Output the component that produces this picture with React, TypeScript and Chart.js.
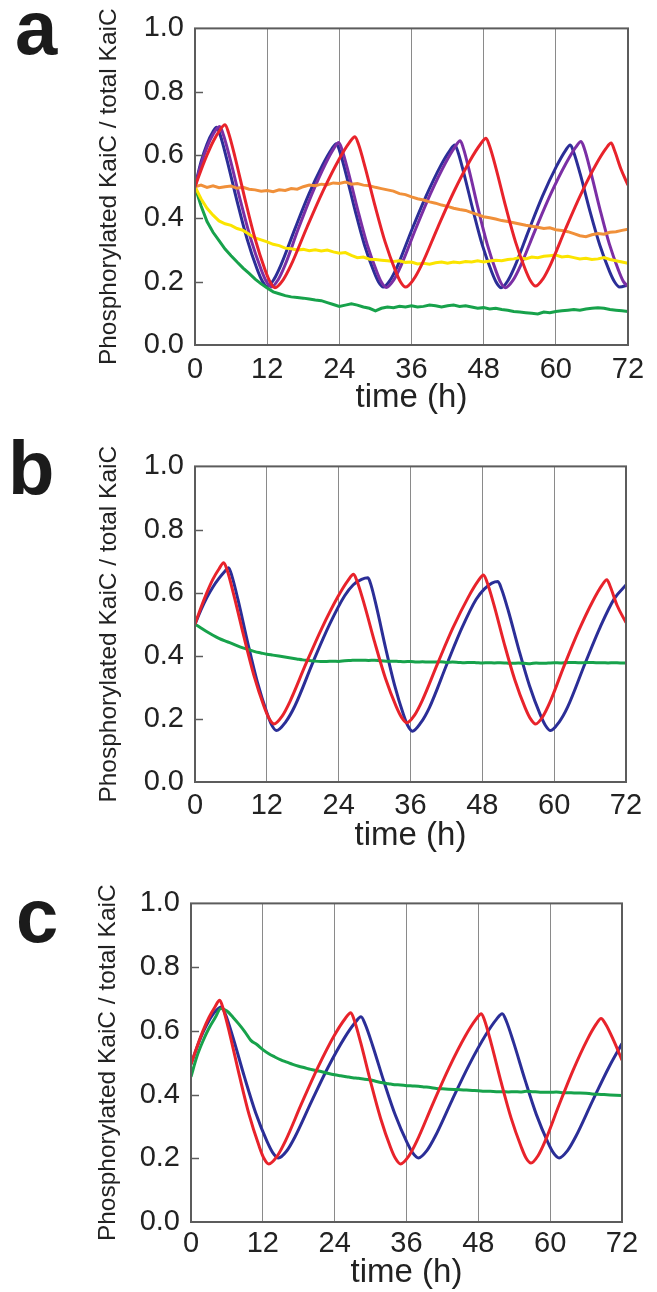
import React, { useEffect, useRef } from "react";
import { Chart, registerables } from "chart.js";

Chart.register(...registerables);

// ---------- shared axis content ----------
const X_TITLE = "time (h)";
const Y_TITLE = "Phosphorylated KaiC / total KaiC";
const X_MIN = 0;
const X_MAX = 72;
const X_STEP = 12;
const Y_MIN = 0;
const Y_MAX = 1;
const Y_STEP = 0.2;
const Y_INNER_TICKS = [0.2, 0.4, 0.6, 0.8];

// hourly sampling times for the measured (noisy / smooth decay) traces
const HOURS = [
  0, 1, 2, 3, 4, 5, 6, 7, 8, 9, 10, 11, 12, 13, 14, 15, 16, 17, 18, 19, 20, 21, 22, 23, 24,
  25, 26, 27, 28, 29, 30, 31, 32, 33, 34, 35, 36, 37, 38, 39, 40, 41, 42, 43, 44, 45, 46, 47, 48,
  49, 50, 51, 52, 53, 54, 55, 56, 57, 58, 59, 60, 61, 62, 63, 64, 65, 66, 67, 68, 69, 70, 71, 72,
];

// ---------- panel a ----------
const A_RED_T = [0, 1, 2, 3, 4, 5.0, 5.58, 6.66, 8.32, 9.98, 11.64, 12.47, 13.3, 14.63, 15.96, 18.62, 21.28, 23.94, 25.67, 26.6, 27.19, 28.28, 29.96, 31.64, 33.32, 34.16, 35.0, 36.34, 37.68, 40.36, 43.04, 45.72, 47.46, 48.4, 48.97, 50.04, 51.68, 53.32, 54.96, 55.78, 56.6, 57.86, 59.12, 61.64, 64.16, 66.68, 68.32, 69.2, 69.75, 70.84, 72];
const A_RED_V = [0.5, 0.552, 0.6, 0.642, 0.675, 0.696, 0.67, 0.593, 0.46, 0.336, 0.238, 0.2, 0.181, 0.205, 0.252, 0.372, 0.486, 0.586, 0.639, 0.658, 0.634, 0.562, 0.438, 0.324, 0.235, 0.2, 0.183, 0.207, 0.253, 0.371, 0.484, 0.582, 0.634, 0.653, 0.629, 0.559, 0.436, 0.324, 0.237, 0.203, 0.186, 0.209, 0.254, 0.368, 0.476, 0.57, 0.62, 0.638, 0.615, 0.555, 0.505];

const A_BLUE_T = [0, 1, 2, 3, 3.6, 4.19, 5.28, 6.96, 8.64, 10.32, 11.16, 12.0, 13.15, 14.3, 16.6, 18.9, 21.2, 22.7, 23.5, 24.05, 25.06, 26.62, 28.18, 29.74, 30.52, 31.3, 32.49, 33.68, 36.06, 38.44, 40.82, 42.37, 43.2, 43.74, 44.74, 46.28, 47.82, 49.36, 50.13, 50.9, 52.05, 53.2, 55.5, 57.8, 60.1, 61.6, 62.4, 62.97, 64.04, 65.68, 67.32, 68.96, 69.78, 70.6, 72];
const A_BLUE_V = [0.5, 0.578, 0.635, 0.674, 0.688, 0.663, 0.587, 0.457, 0.336, 0.24, 0.203, 0.185, 0.208, 0.253, 0.366, 0.475, 0.568, 0.618, 0.636, 0.613, 0.544, 0.425, 0.316, 0.232, 0.199, 0.183, 0.206, 0.25, 0.364, 0.471, 0.565, 0.614, 0.632, 0.609, 0.54, 0.422, 0.313, 0.23, 0.197, 0.181, 0.204, 0.249, 0.362, 0.471, 0.564, 0.614, 0.632, 0.609, 0.541, 0.422, 0.315, 0.231, 0.199, 0.183, 0.19];

const A_PURPLE_T = [0, 1, 2, 3, 4.1, 4.7, 5.82, 7.54, 9.26, 10.98, 11.84, 12.7, 13.82, 14.94, 17.18, 19.42, 21.66, 23.12, 23.9, 24.45, 25.48, 27.06, 28.64, 30.22, 31.01, 31.8, 33.03, 34.26, 36.72, 39.18, 41.64, 43.24, 44.1, 44.63, 45.6, 47.1, 48.6, 50.1, 50.85, 51.6, 52.86, 54.12, 56.64, 59.16, 61.68, 63.32, 64.2, 64.75, 65.76, 67.32, 68.88, 70.44, 71.22, 72];
const A_PURPLE_V = [0.5, 0.57, 0.625, 0.665, 0.69, 0.665, 0.589, 0.457, 0.336, 0.239, 0.201, 0.183, 0.206, 0.251, 0.367, 0.476, 0.571, 0.622, 0.64, 0.617, 0.547, 0.427, 0.317, 0.232, 0.198, 0.182, 0.205, 0.251, 0.368, 0.479, 0.575, 0.626, 0.645, 0.621, 0.551, 0.429, 0.318, 0.231, 0.197, 0.181, 0.204, 0.25, 0.366, 0.477, 0.573, 0.625, 0.643, 0.62, 0.55, 0.43, 0.32, 0.235, 0.201, 0.185];

const A_ORANGE_V = [0.5, 0.505, 0.498, 0.503, 0.497, 0.5, 0.502, 0.495, 0.498, 0.492, 0.49, 0.486, 0.488, 0.484, 0.49, 0.488, 0.494, 0.492, 0.5, 0.505, 0.503, 0.508, 0.506, 0.512, 0.51, 0.515, 0.508, 0.51, 0.505, 0.503, 0.498, 0.494, 0.49, 0.486, 0.478, 0.475, 0.468, 0.462, 0.458, 0.452, 0.448, 0.442, 0.438, 0.432, 0.428, 0.425, 0.418, 0.412, 0.405, 0.402, 0.398, 0.393, 0.39, 0.386, 0.382, 0.378, 0.375, 0.372, 0.368, 0.37, 0.364, 0.362, 0.358, 0.352, 0.345, 0.342, 0.348, 0.352, 0.35, 0.356, 0.358, 0.362, 0.366];

const A_YELLOW_V = [0.5, 0.462, 0.432, 0.41, 0.392, 0.383, 0.378, 0.368, 0.362, 0.35, 0.338, 0.332, 0.326, 0.318, 0.314, 0.306, 0.304, 0.3, 0.302, 0.298, 0.301, 0.297, 0.3, 0.294, 0.29, 0.292, 0.283, 0.276, 0.278, 0.271, 0.27, 0.268, 0.266, 0.264, 0.266, 0.261, 0.262, 0.256, 0.258, 0.255, 0.26, 0.262, 0.258, 0.262, 0.26, 0.264, 0.262, 0.266, 0.262, 0.265, 0.268, 0.266, 0.27, 0.272, 0.276, 0.272, 0.278, 0.276, 0.28, 0.282, 0.284, 0.278, 0.28, 0.276, 0.272, 0.274, 0.27, 0.272, 0.276, 0.27, 0.266, 0.262, 0.258];

const A_GREEN_V = [0.5, 0.44, 0.39, 0.356, 0.33, 0.303, 0.282, 0.262, 0.243, 0.226, 0.208, 0.193, 0.18, 0.168, 0.162, 0.156, 0.152, 0.15, 0.148, 0.145, 0.142, 0.14, 0.134, 0.128, 0.122, 0.126, 0.13, 0.126, 0.12, 0.116, 0.108, 0.116, 0.12, 0.118, 0.122, 0.12, 0.124, 0.12, 0.122, 0.126, 0.124, 0.12, 0.124, 0.126, 0.122, 0.124, 0.12, 0.116, 0.118, 0.114, 0.116, 0.112, 0.11, 0.106, 0.104, 0.102, 0.1, 0.098, 0.104, 0.102, 0.106, 0.108, 0.11, 0.112, 0.11, 0.114, 0.116, 0.118, 0.116, 0.112, 0.11, 0.108, 0.106];

// ---------- panel b ----------
const B_RED_T = [0, 1, 2, 3, 4, 4.8, 5.39, 6.48, 8.16, 9.84, 11.52, 12.36, 13.2, 14.53, 15.86, 18.52, 21.18, 23.84, 25.57, 26.5, 27.12, 28.28, 30.06, 31.84, 33.62, 34.51, 35.4, 36.68, 37.96, 40.52, 43.08, 45.64, 47.3, 48.2, 48.81, 49.94, 51.68, 53.42, 55.16, 56.03, 56.9, 58.09, 59.28, 61.66, 64.04, 66.42, 67.97, 68.8, 69.4, 70.5, 72];
const B_RED_V = [0.5, 0.553, 0.601, 0.643, 0.675, 0.695, 0.67, 0.593, 0.461, 0.338, 0.24, 0.202, 0.184, 0.208, 0.255, 0.374, 0.487, 0.586, 0.639, 0.658, 0.634, 0.563, 0.44, 0.327, 0.239, 0.205, 0.188, 0.212, 0.258, 0.375, 0.488, 0.585, 0.637, 0.656, 0.632, 0.561, 0.437, 0.324, 0.235, 0.201, 0.184, 0.207, 0.252, 0.368, 0.477, 0.572, 0.623, 0.641, 0.618, 0.56, 0.505];

const B_BLUE_T = [0, 1, 2, 3, 4, 5, 5.6, 6.16, 7.2, 8.8, 10.4, 12.0, 12.8, 13.6, 15.13, 16.66, 19.8, 22.5, 25.0, 26.45, 27.83, 28.9, 29.42, 30.38, 31.86, 33.34, 34.82, 35.56, 36.3, 37.73, 39.16, 42.09, 44.59, 46.95, 48.31, 49.6, 50.6, 51.22, 52.36, 54.12, 55.88, 57.64, 58.52, 59.4, 60.83, 62.26, 65.19, 67.69, 70.05, 72];
const B_BLUE_V = [0.5, 0.545, 0.585, 0.618, 0.645, 0.668, 0.679, 0.653, 0.576, 0.442, 0.318, 0.22, 0.181, 0.163, 0.19, 0.24, 0.384, 0.5, 0.59, 0.625, 0.642, 0.647, 0.623, 0.55, 0.423, 0.307, 0.214, 0.178, 0.161, 0.188, 0.236, 0.374, 0.488, 0.578, 0.611, 0.63, 0.635, 0.611, 0.541, 0.418, 0.305, 0.215, 0.18, 0.163, 0.19, 0.238, 0.377, 0.491, 0.581, 0.624];

const B_GREEN_V = [0.5, 0.488, 0.476, 0.465, 0.455, 0.447, 0.44, 0.432, 0.425, 0.419, 0.413, 0.409, 0.405, 0.402, 0.399, 0.396, 0.393, 0.39, 0.387, 0.385, 0.383, 0.382, 0.382, 0.383, 0.382, 0.384, 0.385, 0.386, 0.386, 0.385, 0.386, 0.384, 0.383, 0.383, 0.382, 0.381, 0.382, 0.38, 0.381, 0.38, 0.38, 0.381, 0.379, 0.38, 0.379, 0.378, 0.379, 0.378, 0.377, 0.378, 0.377, 0.378, 0.377, 0.376, 0.377, 0.376, 0.375, 0.377, 0.376, 0.377, 0.378, 0.377, 0.378, 0.379, 0.378, 0.378, 0.379, 0.378, 0.378, 0.377, 0.378, 0.377, 0.377];

// ---------- panel c ----------
const C_RED_T = [0, 1, 2, 3, 4, 4.8, 5.37, 6.44, 8.08, 9.72, 11.36, 12.18, 13.0, 14.37, 15.74, 18.48, 21.22, 23.96, 25.74, 26.7, 27.28, 28.36, 30.02, 31.68, 33.34, 34.17, 35.0, 36.35, 37.7, 40.4, 43.1, 45.8, 47.56, 48.5, 49.08, 50.16, 51.82, 53.48, 55.14, 55.97, 56.8, 57.97, 59.14, 61.48, 63.82, 66.16, 67.68, 68.5, 69.3, 70.6, 72];
const C_RED_V = [0.495, 0.55, 0.6, 0.642, 0.675, 0.696, 0.67, 0.593, 0.46, 0.336, 0.239, 0.2, 0.182, 0.206, 0.253, 0.372, 0.486, 0.586, 0.638, 0.657, 0.633, 0.562, 0.439, 0.325, 0.234, 0.199, 0.182, 0.206, 0.253, 0.371, 0.484, 0.583, 0.635, 0.654, 0.631, 0.56, 0.438, 0.326, 0.237, 0.201, 0.185, 0.208, 0.253, 0.367, 0.476, 0.571, 0.621, 0.639, 0.62, 0.57, 0.508];

const C_BLUE_T = [0, 1, 2, 3, 4, 5.1, 5.77, 7.0, 8.9, 10.8, 12.7, 13.65, 14.6, 15.98, 17.36, 20.12, 22.88, 25.64, 27.43, 28.4, 29.07, 30.32, 32.24, 34.16, 36.08, 37.04, 38.0, 39.4, 40.8, 43.6, 46.4, 49.2, 51.02, 52.0, 52.67, 53.9, 55.8, 57.7, 59.6, 60.55, 61.5, 62.9, 64.3, 67.1, 69.9, 72];
const C_BLUE_V = [0.495, 0.548, 0.595, 0.632, 0.66, 0.675, 0.651, 0.58, 0.457, 0.343, 0.253, 0.218, 0.201, 0.223, 0.267, 0.378, 0.485, 0.578, 0.626, 0.644, 0.622, 0.555, 0.44, 0.334, 0.25, 0.217, 0.201, 0.224, 0.269, 0.382, 0.491, 0.586, 0.636, 0.654, 0.631, 0.563, 0.446, 0.337, 0.251, 0.217, 0.201, 0.224, 0.269, 0.381, 0.489, 0.56];

const C_GREEN_V = [0.456, 0.52, 0.568, 0.608, 0.64, 0.67, 0.662, 0.643, 0.621, 0.597, 0.57, 0.557, 0.541, 0.528, 0.518, 0.509, 0.502, 0.495, 0.489, 0.484, 0.479, 0.475, 0.471, 0.466, 0.462, 0.459, 0.456, 0.453, 0.451, 0.448, 0.446, 0.441, 0.437, 0.434, 0.431, 0.43, 0.428, 0.427, 0.426, 0.424, 0.422, 0.419, 0.418, 0.417, 0.416, 0.415, 0.414, 0.413, 0.412, 0.41, 0.41, 0.409, 0.409, 0.408, 0.409, 0.408, 0.41, 0.409, 0.408, 0.407, 0.407, 0.408, 0.406, 0.406, 0.405, 0.405, 0.404, 0.402, 0.401, 0.4, 0.399, 0.398, 0.397];

// ---------- styling ----------
const RED = "#e8232b";
const BLUE = "#2b2e97";
const PURPLE = "#7b2fa5";
const ORANGE = "#f0903a";
const YELLOW = "#fbe400";
const GREEN = "#17a24b";
const FRAME = "#5c5c5c";
const GRID = "#8a8a8a";
const TEXT = "#222222";
const FAMILY = "'Liberation Sans', Arial, Helvetica, sans-serif";

function pts(t: number[], v: number[]) {
  return t.map((x, i) => ({ x, y: v[i] }));
}

function osc(t: number[], v: number[], color: string) {
  return {
    data: pts(t, v),
    borderColor: color,
    borderWidth: 3,
    pointRadius: 0,
    fill: false,
    cubicInterpolationMode: "monotone" as const,
  };
}

function meas(v: number[], color: string, smooth: boolean) {
  return {
    data: pts(HOURS, v),
    borderColor: color,
    borderWidth: 3,
    pointRadius: 0,
    fill: false,
    tension: 0,
    cubicInterpolationMode: smooth ? ("monotone" as const) : ("default" as const),
  };
}

type PanelProps = {
  letter: string;
  letterX: number;
  letterBase: number;
  top: number;
  height: number;
  plotTop: number;
  plotBottom: number;
  plotLeft: number;
  plotRight: number;
  yTitleX: number;
  tickPad: number;
  datasets: any[];
};

const TICK_SIZE = 29;
const XTITLE_SIZE = 33;
const YTITLE_SIZE = 24.5;
const XTITLE_CENTER = 398;

function Panel(p: PanelProps) {
  const ref = useRef<HTMLCanvasElement | null>(null);
  useEffect(() => {
    const canvas = ref.current;
    if (!canvas) return;
    const axisH = p.height - p.plotBottom;
    const xTitleLH = XTITLE_SIZE * 1.2;
    const yTitleLH = YTITLE_SIZE * 1.2;
    const deco = {
      id: "deco" + p.letter,
      afterDatasetsDraw(chart: any) {
        const { ctx, chartArea: ca, scales } = chart;
        ctx.save();
        ctx.strokeStyle = FRAME;
        ctx.lineWidth = 1.5;
        for (const v of Y_INNER_TICKS) {
          const y = Math.round(scales.y.getPixelForValue(v)) + 0.5;
          ctx.beginPath();
          ctx.moveTo(ca.left, y);
          ctx.lineTo(ca.left + 8, y);
          ctx.stroke();
        }
        ctx.lineWidth = 2;
        ctx.strokeRect(ca.left, ca.top, ca.right - ca.left, ca.bottom - ca.top);
        ctx.restore();
      },
      afterDraw(chart: any) {
        const ctx = chart.ctx;
        ctx.save();
        ctx.font = `bold 76px ${FAMILY}`;
        ctx.fillStyle = "#1b1b1b";
        ctx.textBaseline = "alphabetic";
        ctx.textAlign = "left";
        ctx.fillText(p.letter, p.letterX, p.letterBase);
        ctx.restore();
      },
    };
    const chart = new Chart(canvas, {
      type: "line",
      data: { datasets: p.datasets },
      options: {
        animation: false,
        responsive: false,
        maintainAspectRatio: false,
        devicePixelRatio: 1,
        events: [],
        layout: {
          padding: { top: p.plotTop, right: 657 - p.plotRight, left: 0, bottom: 0 },
        },
        plugins: { legend: { display: false }, tooltip: { enabled: false } },
        scales: {
          x: {
            type: "linear",
            min: X_MIN,
            max: X_MAX,
            ticks: {
              stepSize: X_STEP,
              autoSkip: false,
              maxRotation: 0,
              minRotation: 0,
              padding: p.tickPad,
              color: TEXT,
              font: { family: FAMILY, size: TICK_SIZE },
            },
            grid: { color: GRID, lineWidth: 1, drawTicks: false },
            border: { display: false },
            title: {
              display: true,
              text: X_TITLE,
              color: TEXT,
              font: { family: FAMILY, size: XTITLE_SIZE },
              padding: { top: 0, bottom: p.height - XTITLE_CENTER - xTitleLH / 2 },
            },
            afterFit: (s: any) => {
              s.height = axisH;
            },
          },
          y: {
            type: "linear",
            min: Y_MIN,
            max: Y_MAX,
            ticks: {
              stepSize: Y_STEP,
              padding: 11,
              color: TEXT,
              font: { family: FAMILY, size: TICK_SIZE },
              callback: (v: any) => Number(v).toFixed(1),
            },
            grid: { display: false, drawTicks: false },
            border: { display: false },
            title: {
              display: true,
              text: Y_TITLE,
              color: TEXT,
              font: { family: FAMILY, size: YTITLE_SIZE },
              padding: { top: p.yTitleX - yTitleLH / 2, bottom: 0 },
            },
            afterFit: (s: any) => {
              s.width = p.plotLeft;
            },
          },
        },
      } as any,
      plugins: [deco],
    });
    return () => chart.destroy();
  }, []);
  return (
    <canvas
      ref={ref}
      width={657}
      height={p.height}
      style={{ position: "absolute", left: 0, top: p.top, width: 657, height: p.height }}
    />
  );
}

const PANEL_A = [
  osc(A_RED_T, A_RED_V, RED),
  meas(A_ORANGE_V, ORANGE, false),
  meas(A_YELLOW_V, YELLOW, false),
  meas(A_GREEN_V, GREEN, false),
  osc(A_PURPLE_T, A_PURPLE_V, PURPLE),
  osc(A_BLUE_T, A_BLUE_V, BLUE),
];
const PANEL_B = [
  osc(B_RED_T, B_RED_V, RED),
  meas(B_GREEN_V, GREEN, true),
  osc(B_BLUE_T, B_BLUE_V, BLUE),
];
const PANEL_C = [
  osc(C_RED_T, C_RED_V, RED),
  meas(C_GREEN_V, GREEN, true),
  osc(C_BLUE_T, C_BLUE_V, BLUE),
];

export default function App() {
  return (
    <div
      style={{
        position: "absolute",
        left: 0,
        top: 0,
        width: 657,
        height: 1292,
        overflow: "hidden",
        background: "#ffffff",
      }}
    >
      <Panel letter="a" letterX={15} letterBase={54} top={0} height={420} plotTop={27} plotBottom={345} plotLeft={195} plotRight={628} yTitleX={109.5} tickPad={7.5} datasets={PANEL_A} />
      <Panel letter="b" letterX={8} letterBase={56} top={438} height={420} plotTop={27} plotBottom={344} plotLeft={195} plotRight={626} yTitleX={109.5} tickPad={6.5} datasets={PANEL_B} />
      <Panel letter="c" letterX={16} letterBase={67} top={875} height={420} plotTop={27} plotBottom={347} plotLeft={191} plotRight={622} yTitleX={108.5} tickPad={4.5} datasets={PANEL_C} />
    </div>
  );
}
